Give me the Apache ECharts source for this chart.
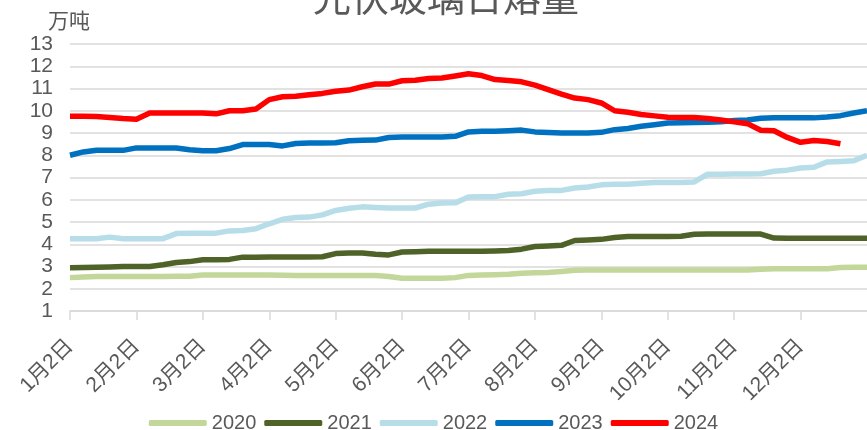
<!DOCTYPE html>
<html>
<head>
<meta charset="utf-8">
<script src="https://cdn.jsdelivr.net/npm/echarts@6/dist/echarts.min.js"></script>
<style>
  html, body { margin: 0; padding: 0; background: #fff; }
  #main { width: 867px; height: 430px; }
</style>
</head>
<body>
<div id="main"></div>
<script>
// 日期（每月5个点）
const categories = [
  '1月2日', '1月8日', '1月14日', '1月20日', '1月26日',
  '2月2日', '2月8日', '2月14日', '2月20日', '2月26日',
  '3月2日', '3月8日', '3月14日', '3月20日', '3月26日',
  '4月2日', '4月8日', '4月14日', '4月20日', '4月26日',
  '5月2日', '5月8日', '5月14日', '5月20日', '5月26日',
  '6月2日', '6月8日', '6月14日', '6月20日', '6月26日',
  '7月2日', '7月8日', '7月14日', '7月20日', '7月26日',
  '8月2日', '8月8日', '8月14日', '8月20日', '8月26日',
  '9月2日', '9月8日', '9月14日', '9月20日', '9月26日',
  '10月2日', '10月8日', '10月14日', '10月20日', '10月26日',
  '11月2日', '11月8日', '11月14日', '11月20日', '11月26日',
  '12月2日', '12月8日', '12月14日', '12月20日', '12月26日',
  '12月31日',
];

// 日熔量（万吨）
const y2020 = [
  2.5, 2.53, 2.55, 2.55, 2.55, 2.55, 2.55, 2.55, 2.56, 2.56,
  2.62, 2.62, 2.62, 2.62, 2.62, 2.62, 2.61, 2.6, 2.6, 2.6,
  2.6, 2.6, 2.6, 2.6, 2.55, 2.47, 2.47, 2.47, 2.47, 2.5,
  2.6, 2.62, 2.63, 2.65, 2.7, 2.72, 2.73, 2.78, 2.83, 2.84,
  2.84, 2.84, 2.84, 2.84, 2.84, 2.84, 2.84, 2.84, 2.84, 2.84,
  2.84, 2.84, 2.88, 2.9, 2.9, 2.9, 2.9, 2.9, 2.95, 2.97,
  2.97,
];
const y2021 = [
  2.94, 2.96, 2.97, 2.98, 3.0, 3.0, 3.0, 3.08, 3.18, 3.22,
  3.3, 3.3, 3.32, 3.42, 3.42, 3.43, 3.43, 3.43, 3.43, 3.44,
  3.58, 3.61, 3.61, 3.55, 3.52, 3.65, 3.66, 3.68, 3.68, 3.69,
  3.69, 3.69, 3.7, 3.72, 3.78, 3.9, 3.92, 3.95, 4.17, 4.19,
  4.22, 4.3, 4.35, 4.35, 4.35, 4.35, 4.36, 4.45, 4.46, 4.46,
  4.46, 4.46, 4.46, 4.28, 4.27, 4.27, 4.27, 4.27, 4.27, 4.27,
  4.27,
];
const y2022 = [
  4.25, 4.25, 4.25, 4.32, 4.25, 4.25, 4.25, 4.25, 4.48, 4.5,
  4.5, 4.5, 4.6, 4.62, 4.7, 4.92, 5.12, 5.2, 5.22, 5.32,
  5.52, 5.62, 5.68, 5.65, 5.63, 5.63, 5.63, 5.8, 5.85, 5.86,
  6.12, 6.13, 6.14, 6.25, 6.27, 6.38, 6.42, 6.42, 6.53, 6.57,
  6.67, 6.7, 6.7, 6.74, 6.77, 6.78, 6.78, 6.8, 7.15, 7.15,
  7.16, 7.16, 7.17, 7.28, 7.33, 7.43, 7.46, 7.7, 7.72, 7.75,
  8.0,
];
const y2023 = [
  8.0, 8.15, 8.22, 8.22, 8.22, 8.33, 8.33, 8.33, 8.33, 8.25,
  8.2, 8.2, 8.3, 8.48, 8.48, 8.48, 8.42, 8.53, 8.55, 8.55,
  8.56, 8.65, 8.67, 8.68, 8.8, 8.82, 8.82, 8.82, 8.82, 8.85,
  9.05, 9.08, 9.08, 9.1, 9.13, 9.05, 9.02, 9.0, 9.0, 9.0,
  9.03, 9.15, 9.2, 9.3, 9.37, 9.45, 9.46, 9.47, 9.48, 9.5,
  9.56, 9.58, 9.66, 9.68, 9.68, 9.68, 9.68, 9.72, 9.78, 9.9,
  10.0,
];
const y2024 = [
  9.75, 9.75, 9.74, 9.7, 9.65, 9.62, 9.9, 9.9, 9.9, 9.9,
  9.9, 9.86, 10.0, 10.0, 10.08, 10.5, 10.63, 10.65, 10.72, 10.78,
  10.88, 10.93, 11.08, 11.2, 11.2, 11.35, 11.37, 11.45, 11.47, 11.56,
  11.66, 11.58, 11.4, 11.36, 11.3, 11.15, 10.95, 10.75, 10.57, 10.5,
  10.35, 10.0, 9.93, 9.83, 9.77, 9.71, 9.7, 9.7, 9.65, 9.58,
  9.5, 9.42, 9.12, 9.1, 8.8, 8.58, 8.66, 8.62, 8.52, null,
  null,
];

const years = ['2020', '2021', '2022', '2023', '2024'];
const values = [y2020, y2021, y2022, y2023, y2024];
const colors = ['#c4d79b', '#4f6228', '#b7dee8', '#0070c0', '#ff0000'];

const textColor = '#595959';
const gridColor = '#d9d9d9';
const numFont = "'Liberation Sans', 'Noto Sans CJK SC', sans-serif";

// 只在每月2日显示刻度和标签
const monthTick = (i) => i % 5 === 0 && i < 60;

const option = {
  animation: false,
  title: {
    text: '光伏玻璃日熔量',
    left: 441,
    top: -27,
    textAlign: 'center',
    textStyle: { fontFamily: 'Noto Sans CJK SC', fontSize: 38, fontWeight: 'normal', color: textColor },
  },
  graphic: [
    {
      type: 'text',
      left: 48,
      top: 10,
      style: { text: '万吨', font: "21px 'Noto Sans CJK SC'", fill: textColor },
    },
  ],
  legend: {
    top: 408,
    left: 'center',
    icon: 'roundRect',
    itemWidth: 58,
    itemHeight: 6,
    itemGap: 8,
    textStyle: { fontFamily: numFont, fontSize: 20, color: textColor },
  },
  grid: { left: 70, right: 0, top: 44, bottom: 119 },
  xAxis: {
    type: 'category',
    boundaryGap: false,
    data: categories,
    axisLine: { lineStyle: { color: gridColor, width: 1.5 } },
    axisTick: { interval: monthTick, length: 9, lineStyle: { color: gridColor, width: 1.5 } },
    axisLabel: {
      interval: monthTick,
      rotate: 45,
      margin: 32,
      fontFamily: numFont,
      fontSize: 21,
      color: textColor,
    },
  },
  yAxis: {
    type: 'value',
    min: 1,
    max: 13,
    interval: 1,
    axisLine: { show: false },
    axisTick: { show: false },
    axisLabel: { margin: 17, fontFamily: numFont, fontSize: 21, color: textColor },
    splitLine: { lineStyle: { color: gridColor, width: 1.5 } },
  },
  series: years.map((name, k) => ({
    name,
    type: 'line',
    data: values[k],
    showSymbol: false,
    color: colors[k],
    lineStyle: { width: 5.5, color: colors[k], join: 'round' },
  })),
};

const myChart = echarts.init(document.getElementById('main'));
myChart.setOption(option);
</script>
</body>
</html>
